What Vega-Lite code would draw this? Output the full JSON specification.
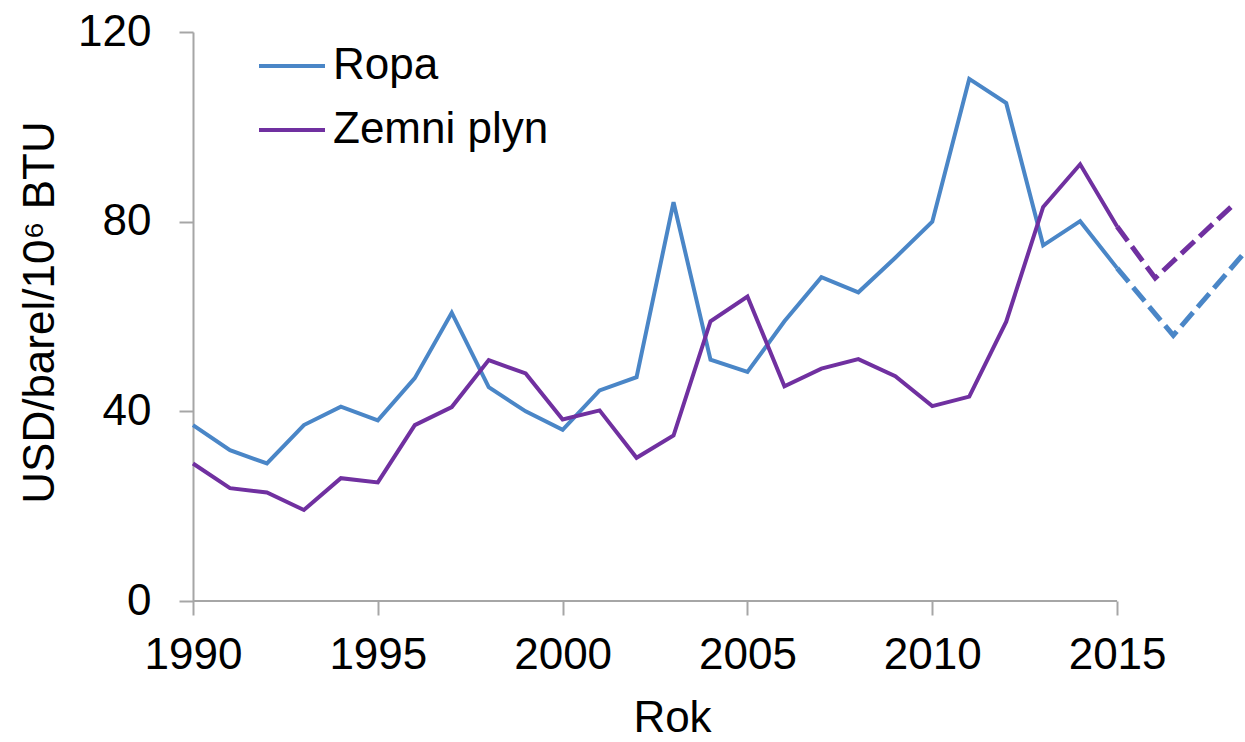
{
  "$schema": "https://vega.github.io/schema/vega-lite/v6.json",
  "width": 1052,
  "height": 569,
  "autosize": {"type": "none"},
  "padding": {"left": 193, "top": 32, "right": 0, "bottom": 141},
  "background": "white",
  "config": {
    "font": "Liberation Sans",
    "view": {"stroke": null},
    "axis": {"grid": false, "labelColor": "black", "titleColor": "black", "titleFontWeight": "normal"}
  },
  "data": {
    "values": [
      {"year": 1990, "value": 37.1, "series": "Ropa", "part": "hist"},
      {"year": 1991, "value": 31.8, "series": "Ropa", "part": "hist"},
      {"year": 1992, "value": 29.0, "series": "Ropa", "part": "hist"},
      {"year": 1993, "value": 37.1, "series": "Ropa", "part": "hist"},
      {"year": 1994, "value": 41.0, "series": "Ropa", "part": "hist"},
      {"year": 1995, "value": 38.1, "series": "Ropa", "part": "hist"},
      {"year": 1996, "value": 47.0, "series": "Ropa", "part": "hist"},
      {"year": 1997, "value": 60.8, "series": "Ropa", "part": "hist"},
      {"year": 1998, "value": 45.1, "series": "Ropa", "part": "hist"},
      {"year": 1999, "value": 40.0, "series": "Ropa", "part": "hist"},
      {"year": 2000, "value": 36.1, "series": "Ropa", "part": "hist"},
      {"year": 2001, "value": 44.4, "series": "Ropa", "part": "hist"},
      {"year": 2002, "value": 47.2, "series": "Ropa", "part": "hist"},
      {"year": 2003, "value": 84.1, "series": "Ropa", "part": "hist"},
      {"year": 2004, "value": 50.9, "series": "Ropa", "part": "hist"},
      {"year": 2005, "value": 48.3, "series": "Ropa", "part": "hist"},
      {"year": 2006, "value": 59.0, "series": "Ropa", "part": "hist"},
      {"year": 2007, "value": 68.3, "series": "Ropa", "part": "hist"},
      {"year": 2008, "value": 65.1, "series": "Ropa", "part": "hist"},
      {"year": 2009, "value": 72.4, "series": "Ropa", "part": "hist"},
      {"year": 2010, "value": 80.0, "series": "Ropa", "part": "hist"},
      {"year": 2011, "value": 110.1, "series": "Ropa", "part": "hist"},
      {"year": 2012, "value": 105.0, "series": "Ropa", "part": "hist"},
      {"year": 2013, "value": 75.0, "series": "Ropa", "part": "hist"},
      {"year": 2014, "value": 80.1, "series": "Ropa", "part": "hist"},
      {"year": 2015, "value": 70.2, "series": "Ropa", "part": "hist"},
      {"year": 2015, "value": 70.2, "series": "Ropa", "part": "proj"},
      {"year": 2016.52, "value": 56.0, "series": "Ropa", "part": "proj"},
      {"year": 2018.46, "value": 73.6, "series": "Ropa", "part": "proj"},
      {"year": 1990, "value": 29.0, "series": "Zemni plyn", "part": "hist"},
      {"year": 1991, "value": 23.8, "series": "Zemni plyn", "part": "hist"},
      {"year": 1992, "value": 22.9, "series": "Zemni plyn", "part": "hist"},
      {"year": 1993, "value": 19.2, "series": "Zemni plyn", "part": "hist"},
      {"year": 1994, "value": 25.9, "series": "Zemni plyn", "part": "hist"},
      {"year": 1995, "value": 25.0, "series": "Zemni plyn", "part": "hist"},
      {"year": 1996, "value": 37.1, "series": "Zemni plyn", "part": "hist"},
      {"year": 1997, "value": 40.9, "series": "Zemni plyn", "part": "hist"},
      {"year": 1998, "value": 50.8, "series": "Zemni plyn", "part": "hist"},
      {"year": 1999, "value": 48.0, "series": "Zemni plyn", "part": "hist"},
      {"year": 2000, "value": 38.3, "series": "Zemni plyn", "part": "hist"},
      {"year": 2001, "value": 40.2, "series": "Zemni plyn", "part": "hist"},
      {"year": 2002, "value": 30.2, "series": "Zemni plyn", "part": "hist"},
      {"year": 2003, "value": 34.9, "series": "Zemni plyn", "part": "hist"},
      {"year": 2004, "value": 59.0, "series": "Zemni plyn", "part": "hist"},
      {"year": 2005, "value": 64.2, "series": "Zemni plyn", "part": "hist"},
      {"year": 2006, "value": 45.3, "series": "Zemni plyn", "part": "hist"},
      {"year": 2007, "value": 49.0, "series": "Zemni plyn", "part": "hist"},
      {"year": 2008, "value": 51.0, "series": "Zemni plyn", "part": "hist"},
      {"year": 2009, "value": 47.4, "series": "Zemni plyn", "part": "hist"},
      {"year": 2010, "value": 41.1, "series": "Zemni plyn", "part": "hist"},
      {"year": 2011, "value": 43.1, "series": "Zemni plyn", "part": "hist"},
      {"year": 2012, "value": 58.9, "series": "Zemni plyn", "part": "hist"},
      {"year": 2013, "value": 83.1, "series": "Zemni plyn", "part": "hist"},
      {"year": 2014, "value": 92.1, "series": "Zemni plyn", "part": "hist"},
      {"year": 2015, "value": 79.0, "series": "Zemni plyn", "part": "hist"},
      {"year": 2015, "value": 79.0, "series": "Zemni plyn", "part": "proj"},
      {"year": 2016.03, "value": 68.1, "series": "Zemni plyn", "part": "proj"},
      {"year": 2018.19, "value": 83.9, "series": "Zemni plyn", "part": "proj"}
    ]
  },
  "layer": [
    {
      "data": {"values": [{"year": 1990, "yearEnd": 2015, "value": 0}]},
      "mark": {"type": "rule", "color": "#a6a6a6", "strokeWidth": 2},
      "encoding": {
        "x": {"field": "year", "type": "quantitative", "title": "Rok", "scale": {"domain": [1990, 2018.46], "nice": false, "zero": false}},
        "x2": {"field": "yearEnd"},
        "y": {"field": "value", "type": "quantitative", "title": "USD/barel/10⁶ BTU", "scale": {"domain": [0, 120], "nice": false}}
      }
    },
    {
      "transform": [{"filter": "datum.part === 'hist'"}],
      "mark": {"type": "line", "strokeWidth": 4},
      "encoding": {
        "x": {
          "field": "year", "type": "quantitative", "title": "Rok",
          "scale": {"domain": [1990, 2018.46], "nice": false, "zero": false},
          "axis": {
            "values": [1990, 1995, 2000, 2005, 2010, 2015], "format": "d",
            "domain": false, "labelFlush": false, "labelOverlap": false,
            "labelFontSize": 44, "labelPadding": 18,
            "tickSize": 14, "tickColor": "#a6a6a6", "tickWidth": 2,
            "titleFontSize": 44, "titleX": 479, "titleY": 130,
            "titleAlign": "center", "titleBaseline": "alphabetic"
          }
        },
        "y": {
          "field": "value", "type": "quantitative", "title": "USD/barel/10⁶ BTU",
          "scale": {"domain": [0, 120], "nice": false},
          "axis": {
            "values": [0, 40, 80, 120],
            "domainColor": "#a6a6a6", "domainWidth": 2,
            "tickSize": 14, "tickColor": "#a6a6a6", "tickWidth": 2,
            "labelFontSize": 44, "labelPadding": 28, "labelOverlap": false, "labelFlush": false,
            "titleFontSize": 44,
            "titleX": -140, "titleY": 280, "titleAngle": -90,
            "titleAlign": "center", "titleBaseline": "alphabetic"
          }
        },
        "color": {
          "field": "series", "type": "nominal",
          "scale": {"domain": ["Ropa", "Zemni plyn"], "range": ["#4A86C7", "#7030A0"]},
          "legend": {
            "title": null, "orient": "none", "legendX": 64, "legendY": -1,
            "symbolType": "stroke", "symbolSize": 4356, "symbolStrokeWidth": 4,
            "labelFontSize": 44, "labelColor": "black", "labelOffset": 6, "labelLimit": 600,
            "rowPadding": 7, "padding": 0
          }
        }
      }
    },
    {
      "transform": [{"filter": "datum.part === 'proj'"}],
      "mark": {"type": "line", "strokeWidth": 5, "strokeDash": [18, 7]},
      "encoding": {
        "x": {"field": "year", "type": "quantitative", "title": "Rok", "scale": {"domain": [1990, 2018.46], "nice": false, "zero": false}},
        "y": {"field": "value", "type": "quantitative", "title": "USD/barel/10⁶ BTU", "scale": {"domain": [0, 120], "nice": false}},
        "color": {"field": "series", "type": "nominal"}
      }
    }
  ]
}
